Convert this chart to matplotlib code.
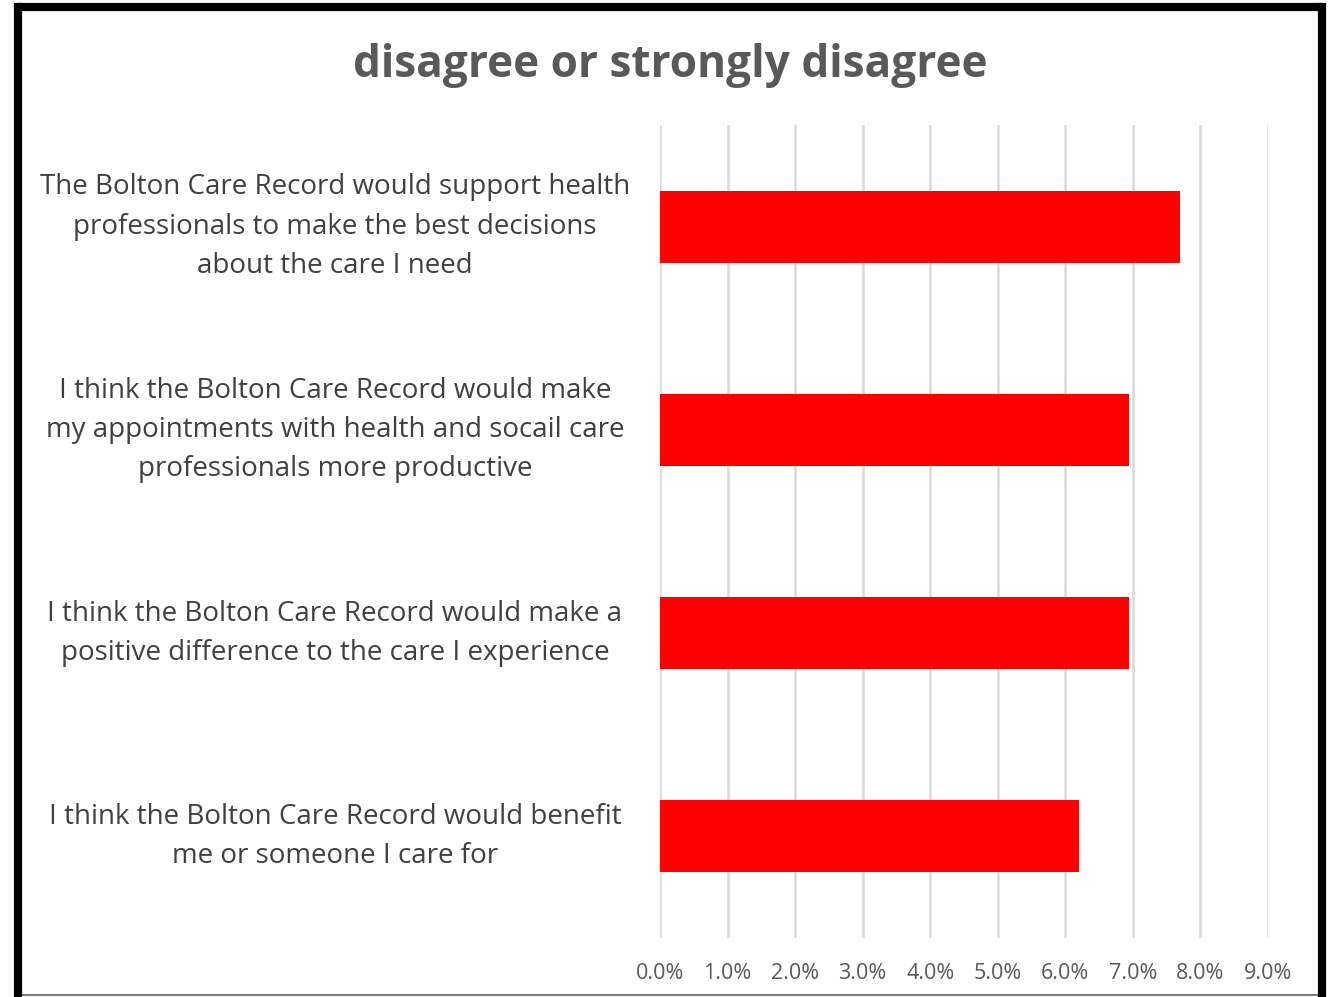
import matplotlib
matplotlib.use("Agg")
import matplotlib.pyplot as plt
from matplotlib.lines import Line2D
from matplotlib.ticker import FuncFormatter

title = "disagree or strongly disagree"
categories = [
    "The Bolton Care Record would support health\nprofessionals to make the best decisions\nabout the care I need",
    "I think the Bolton Care Record would make\nmy appointments with health and socail care\nprofessionals more productive",
    "I think the Bolton Care Record would make a\npositive difference to the care I experience",
    "I think the Bolton Care Record would benefit\nme or someone I care for",
]
values = [0.077, 0.0694, 0.0694, 0.062]
xticks = [i / 100 for i in range(10)]

plt.rcParams['font.family'] = ['Open Sans', 'DejaVu Sans']

W, H = 1334, 997
fig = plt.figure(figsize=(W / 100, H / 100), dpi=100)
fig.patch.set_facecolor('white')

ax = fig.add_axes([660 / W, 1 - 938 / H, (1268 - 660) / W, (938 - 125) / H])
ypos = list(range(len(categories)))
ax.barh(ypos, values, height=0.354, color='#ff0000', zorder=3)
ax.set_ylim(len(categories) - 0.5, -0.5)
ax.set_xlim(0, 0.09)
ax.set_xticks(xticks)
ax.xaxis.set_major_formatter(FuncFormatter(lambda v, p: f"{v*100:.1f}%"))
ax.grid(axis='x', color='#d9d9d9', linewidth=1.8, zorder=0)
for s in ax.spines.values():
    s.set_visible(False)
ax.tick_params(axis='x', length=0, pad=18, labelsize=15.5, labelcolor='#595959')
ax.set_yticks(ypos)
ax.set_yticklabels([])
ax.tick_params(axis='y', length=0)

for y, lab in zip(ypos, categories):
    ax.text(-325 / 67.55 / 100, y, lab, ha='center', va='center', fontsize=20,
            color='#404040', linespacing=1.53, transform=ax.transData)

fig.text(670 / W, 1 - 66 / H, title, ha='center', va='center', fontsize=31.8,
         fontweight='bold', color='#595959')

# border
def fl(x0, y0, x1, y1, **kw):
    fig.add_artist(Line2D([x0 / W, x1 / W], [1 - y0 / H, 1 - y1 / H],
                          transform=fig.transFigure, **kw))

fl(16, 995, 1324, 995, color='#808080', linewidth=1.5)
fl(18, 995, 18, 7, color='black', linewidth=5.9, solid_capstyle='projecting', solid_joinstyle='round')
fl(18, 7, 1322, 7, color='black', linewidth=5.9, solid_capstyle='round')
fl(1322, 7, 1322, 997, color='black', linewidth=5.9, solid_capstyle='projecting')

fig.savefig("out.png", dpi=100, facecolor='white')
